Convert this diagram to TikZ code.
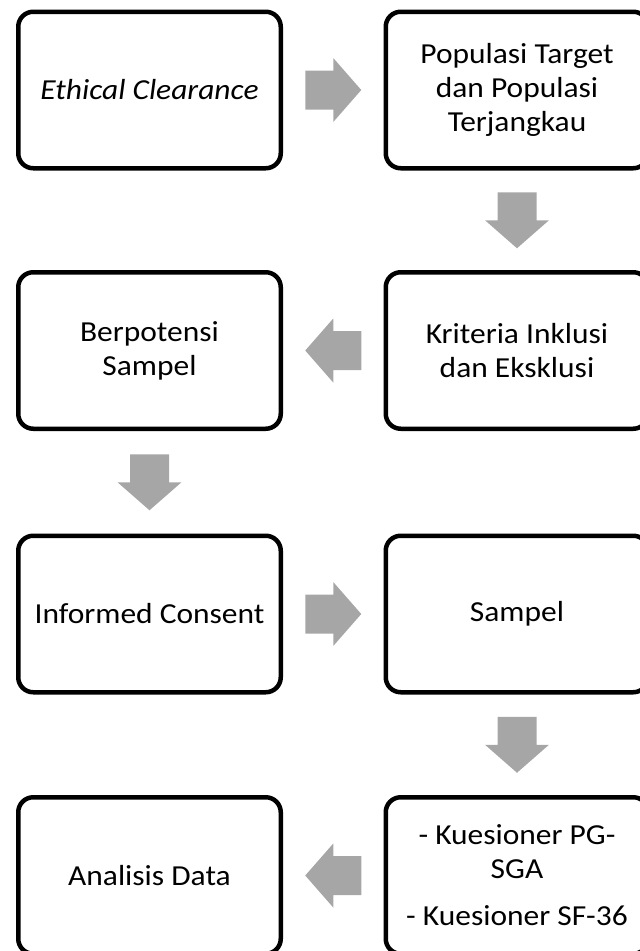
\documentclass[tikz,border=0pt]{standalone}
\usepackage{fontspec}
\setmainfont{Carlito}[FakeStretch=1.085]
\usetikzlibrary{calc}
\definecolor{arrowgray}{RGB}{166,166,166}
\tikzset{
  box/.style={draw=black, line width=4.5pt, rounded corners=15pt,
    minimum width=262.5pt, minimum height=156.5pt, align=center,
    inner sep=0pt, font=\fontsize{29}{34}\selectfont},
  blockarrow/.pic={\fill[arrowgray] (-28,-19.5) -- (0,-19.5) -- (0,-32) -- (28,0)
      -- (0,32) -- (0,19.5) -- (-28,19.5) -- cycle;}
}
\begin{document}
\begin{tikzpicture}[x=1pt,y=-1pt]
\clip (0,0) rectangle (640,951);
\node[box] (ec)  at (149.5,90)    {\itshape Ethical Clearance};
\node[box] (pop) at (517,90)      {Populasi Target\\dan Populasi\\Terjangkau};
\node[box] (bs)  at (149.5,350.5) {Berpotensi\\Sampel};
\node[box] (kri) at (517,350.5)   {Kriteria Inklusi\\dan Eksklusi};
\node[box] (ic)  at (149.5,614)   {Informed Consent};
\node[box] (smp) at (517,614)     {Sampel};
\node[box] (ad)  at (149.5,875.5) {Analisis Data};
\node[box] (kue) at (517,875.5)   {- Kuesioner PG-\\SGA\\[13pt]- Kuesioner SF-36};
\pic at ($(ec.east)!0.5!(pop.west)$) {blockarrow};
\pic[rotate=-90] at ($(pop.south)!0.5!(kri.north)$) {blockarrow};
\pic[rotate=180] at ($(kri.west)!0.5!(bs.east)$) {blockarrow};
\pic[rotate=-90] at ($(bs.south)!0.5!(ic.north)$) {blockarrow};
\pic at ($(ic.east)!0.5!(smp.west)$) {blockarrow};
\pic[rotate=-90] at ($(smp.south)!0.5!(kue.north)$) {blockarrow};
\pic[rotate=180] at ($(kue.west)!0.5!(ad.east)$) {blockarrow};
\end{tikzpicture}
\end{document}
